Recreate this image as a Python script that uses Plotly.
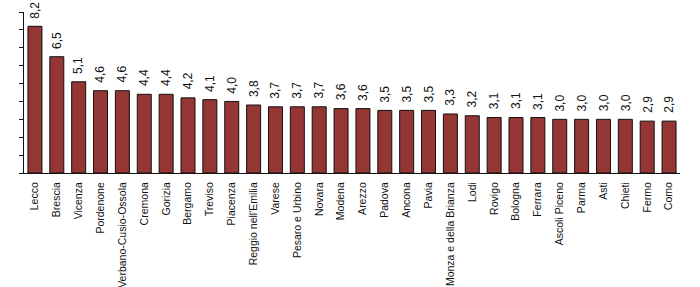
import plotly.graph_objects as go

categories = ["Lecco", "Brescia", "Vicenza", "Pordenone", "Verbano-Cusio-Ossola", "Cremona",
              "Gorizia", "Bergamo", "Treviso", "Piacenza", "Reggio nell'Emilia", "Varese",
              "Pesaro e Urbino", "Novara", "Modena", "Arezzo", "Padova", "Ancona", "Pavia",
              "Monza e della Brianza", "Lodi", "Rovigo", "Bologna", "Ferrara", "Ascoli Piceno",
              "Parma", "Asti", "Chieti", "Fermo", "Como"]
values = [8.2, 6.5, 5.1, 4.6, 4.6, 4.4, 4.4, 4.2, 4.1, 4.0, 3.8, 3.7, 3.7, 3.7, 3.6, 3.6,
          3.5, 3.5, 3.5, 3.3, 3.2, 3.1, 3.1, 3.1, 3.0, 3.0, 3.0, 3.0, 2.9, 2.9]
labels = [f"{v:.1f}".replace(".", ",") for v in values]

fig = go.Figure(go.Bar(
    x=categories, y=values,
    marker=dict(color="#943634", line=dict(color="#111111", width=1)),
    width=0.64,
))

for c, v, t in zip(categories, values, labels):
    fig.add_annotation(x=c, y=v, text=t, textangle=-90, showarrow=False,
                       yanchor="bottom", yshift=6,
                       font=dict(family="Liberation Sans, Arial", size=12, color="#111111"))

fig.update_layout(
    width=700, height=287,
    margin=dict(l=24, r=20, t=12, b=114),
    plot_bgcolor="white", paper_bgcolor="white",
    showlegend=False,
    font=dict(family="Liberation Sans, Arial", size=11, color="#111111"),
)
fig.update_xaxes(tickangle=-90, showline=True, linecolor="#111111", linewidth=1,
                 ticks="", showgrid=False, tickfont=dict(size=10.5),
                 automargin=False, ticklabelstandoff=4,
                 range=[-0.5, len(categories) - 0.5])
fig.update_yaxes(range=[0, 9], dtick=1, showticklabels=False, ticks="outside",
                 ticklen=4, tickcolor="#111111", showline=True, linecolor="#111111",
                 linewidth=1, showgrid=False, zeroline=False, automargin=False)

fig.write_html("out.html")
